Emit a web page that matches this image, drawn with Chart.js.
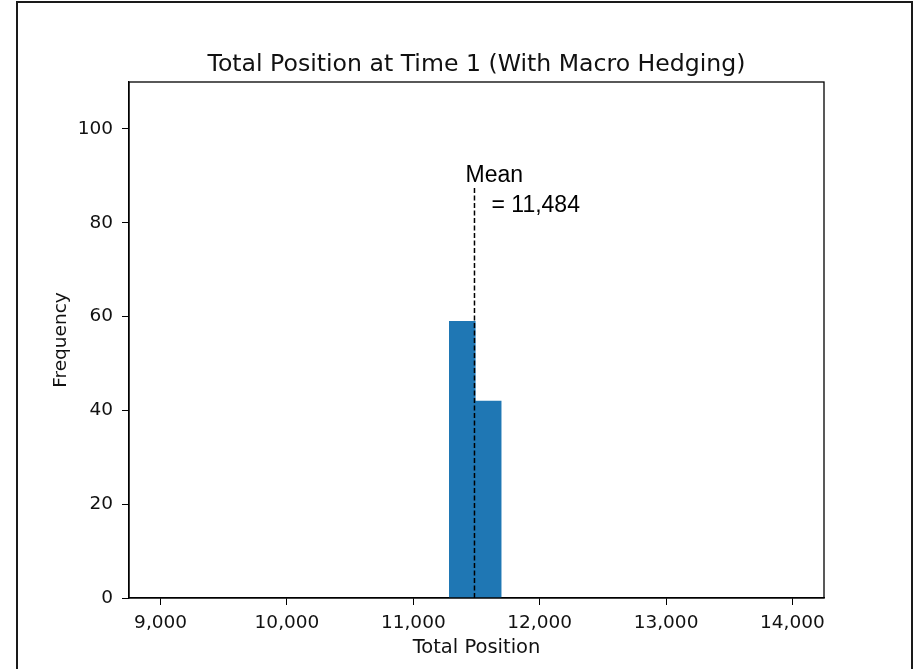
<!DOCTYPE html>
<html lang="en">
<head>
    <meta charset="UTF-8">
    <title>Total Position at Time 1 (With Macro Hedging)</title>
    <style>
body {
    margin: 0;
    padding: 0;
    background: #fff;
    overflow: hidden;
}

#wrap {
    position: relative;
    width: 914px;
    height: 669px;
}

#chart {
    position: absolute;
    left: 0;
    top: 0;
}

/* the dark frame around the screenshot */
#frame {
    position: absolute;
    left: 16px;
    top: 1px;
    width: 893px;
    height: 700px;
    border: 2px solid #1a1a1a;
    pointer-events: none;
}
    </style>
</head>
<body>
    <div id="wrap">
        <canvas id="chart" width="914" height="669"></canvas>
        <div id="frame"></div>
    </div>

    <script src="https://cdn.jsdelivr.net/npm/chart.js"></script>
    <script>
        // Histogram bins (edges) and counts
        const binEdges = [11285, 11490, 11695];
        const binCounts = [59, 42];

        // Mean marker
        const meanValue = 11484;
        const meanLineTop = 87.5;

        // Axis ranges and ticks
        const xRange = [8750, 14250];
        const xTicks = [9000, 10000, 11000, 12000, 13000, 14000];
        const yRange = [0, 110];
        const yTicks = [0, 20, 40, 60, 80, 100];

        const chartTitle = 'Total Position at Time 1 (With Macro Hedging)';

        const histData = binCounts.map((c, i) => ({
            x: (binEdges[i] + binEdges[i + 1]) / 2,
            y: c
        }));

        const meanData = [
            { x: meanValue, y: 0 },
            { x: meanValue, y: meanLineTop }
        ];

        const tickFont = { family: '"DejaVu Sans", sans-serif', size: 18.5 };

        // box round the plot area (like matplotlib spines) and the title centred over it
        const frameBox = {
            id: 'frameBox',
            afterDraw(chart) {
                const a = chart.chartArea;
                const ctx = chart.ctx;
                ctx.save();
                ctx.strokeStyle = '#000';
                ctx.lineWidth = 1.3;
                ctx.strokeRect(a.left, a.top, a.right - a.left, a.bottom - a.top);

                ctx.fillStyle = '#111';
                ctx.font = '23.6px "DejaVu Sans", sans-serif';
                ctx.textAlign = 'center';
                ctx.textBaseline = 'middle';
                ctx.fillText(chartTitle, (a.left + a.right) / 2, a.top - 17);
                ctx.restore();
            }
        };

        // "Mean = ..." text next to the dashed line
        const meanLabel = {
            id: 'meanLabel',
            afterDatasetsDraw(chart) {
                const xs = chart.scales.x;
                const ys = chart.scales.y;
                const px = xs.getPixelForValue(meanValue);
                const py = ys.getPixelForValue(88.7);
                const ctx = chart.ctx;
                ctx.save();
                ctx.fillStyle = '#000';
                ctx.font = '23px "Liberation Sans", Arial, sans-serif';
                ctx.textAlign = 'left';
                ctx.textBaseline = 'alphabetic';
                ctx.fillText('Mean', px - 9, py);
                ctx.fillText('= ' + meanValue.toLocaleString('en-US'), px + 17, py + 30);
                ctx.restore();
            }
        };

        const ctx = document.getElementById('chart').getContext('2d');

        const chart = new Chart(ctx, {
            type: 'bar',
            data: {
                datasets: [
                    {
                        type: 'bar',
                        data: histData,
                        backgroundColor: '#1f77b4',
                        borderWidth: 0,
                        barPercentage: 1,
                        categoryPercentage: 1,
                        order: 2
                    },
                    {
                        type: 'line',
                        data: meanData,
                        borderColor: '#000',
                        borderWidth: 1.5,
                        borderDash: [5, 2.5],
                        pointRadius: 0,
                        fill: false,
                        order: 1
                    }
                ]
            },
            options: {
                responsive: false,
                animation: false,
                layout: {
                    padding: { left: 0, right: 90, top: 82, bottom: 0 }
                },
                plugins: {
                    legend: { display: false },
                    tooltip: { enabled: false },
                    title: { display: false }
                },
                scales: {
                    x: {
                        type: 'linear',
                        min: xRange[0],
                        max: xRange[1],
                        offset: false,
                        afterFit: (s) => { s.height = 71; },
                        afterBuildTicks: (s) => { s.ticks = xTicks.map(v => ({ value: v })); },
                        grid: {
                            offset: false,
                            drawOnChartArea: false,
                            drawTicks: true,
                            tickLength: 7,
                            tickColor: '#000'
                        },
                        border: { display: true, color: '#000', width: 1.3 },
                        ticks: {
                            color: '#111',
                            font: tickFont,
                            padding: 7,
                            maxRotation: 0,
                            autoSkip: false,
                            callback: (v) => v.toLocaleString('en-US')
                        },
                        title: {
                            display: true,
                            text: 'Total Position',
                            color: '#111',
                            font: { family: '"DejaVu Sans", sans-serif', size: 19.5 },
                            padding: { top: 0, bottom: 9 }
                        }
                    },
                    y: {
                        type: 'linear',
                        min: yRange[0],
                        max: yRange[1],
                        afterFit: (s) => { s.width = 129; },
                        afterBuildTicks: (s) => { s.ticks = yTicks.map(v => ({ value: v })); },
                        grid: {
                            drawOnChartArea: false,
                            drawTicks: true,
                            tickLength: 7,
                            tickColor: '#000'
                        },
                        border: { display: true, color: '#000', width: 1.3 },
                        ticks: {
                            color: '#111',
                            font: tickFont,
                            padding: 9
                        },
                        title: {
                            display: true,
                            text: 'Frequency',
                            color: '#111',
                            font: tickFont,
                            padding: { top: 50, bottom: 0 }
                        }
                    }
                }
            },
            plugins: [frameBox, meanLabel]
        });
    </script>
</body>
</html>
